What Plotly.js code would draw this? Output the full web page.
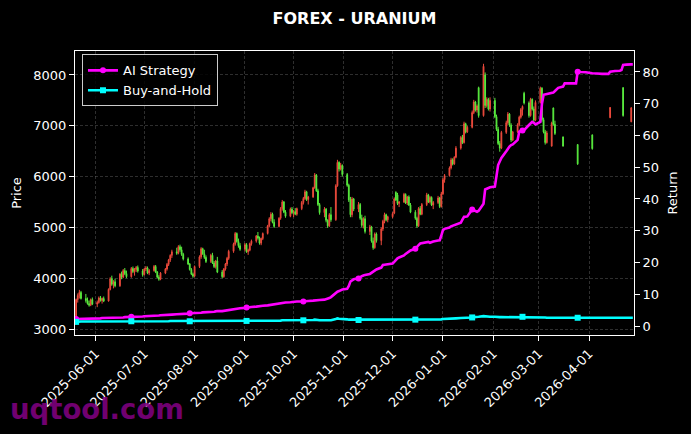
<!DOCTYPE html>
<html>
<head>
<meta charset="utf-8">
<script src="https://cdn.plot.ly/plotly-3.0.1.min.js"></script>
<style>html,body{margin:0;padding:0;background:#000;}#chart{width:691px;height:434px;}</style>
</head>
<body>
<div id="chart"></div>
<script>
// ---------- data ----------
const dates = [
"2025-05-20","2025-05-21","2025-05-22","2025-05-23","2025-05-26","2025-05-27","2025-05-28","2025-05-29","2025-05-30",
"2025-06-02","2025-06-03","2025-06-04","2025-06-05","2025-06-06","2025-06-09","2025-06-10","2025-06-11","2025-06-12","2025-06-13","2025-06-16","2025-06-17","2025-06-18","2025-06-19","2025-06-20","2025-06-23","2025-06-24","2025-06-25","2025-06-26","2025-06-27","2025-06-30",
"2025-07-01","2025-07-02","2025-07-03","2025-07-04","2025-07-07","2025-07-08","2025-07-09","2025-07-10","2025-07-11","2025-07-14","2025-07-15","2025-07-16","2025-07-17","2025-07-18","2025-07-21","2025-07-22","2025-07-23","2025-07-24","2025-07-25","2025-07-28","2025-07-29","2025-07-30","2025-07-31",
"2025-08-01","2025-08-04","2025-08-05","2025-08-06","2025-08-07","2025-08-08","2025-08-11","2025-08-12","2025-08-13","2025-08-14","2025-08-15","2025-08-18","2025-08-19","2025-08-20","2025-08-21","2025-08-22","2025-08-25","2025-08-26","2025-08-27","2025-08-28","2025-08-29",
"2025-09-01","2025-09-02","2025-09-03","2025-09-04","2025-09-05","2025-09-08","2025-09-09","2025-09-10","2025-09-11","2025-09-12","2025-09-15","2025-09-16","2025-09-17","2025-09-18","2025-09-19","2025-09-22","2025-09-23","2025-09-24","2025-09-25","2025-09-26","2025-09-29","2025-09-30",
"2025-10-01","2025-10-02","2025-10-03","2025-10-06","2025-10-07","2025-10-08","2025-10-09","2025-10-10","2025-10-13","2025-10-14","2025-10-15","2025-10-16","2025-10-17","2025-10-20","2025-10-21","2025-10-22","2025-10-23","2025-10-24","2025-10-27","2025-10-28","2025-10-29","2025-10-30","2025-10-31",
"2025-11-03","2025-11-04","2025-11-05","2025-11-06","2025-11-07","2025-11-10","2025-11-11","2025-11-12","2025-11-13","2025-11-14","2025-11-17","2025-11-18","2025-11-19","2025-11-20","2025-11-21","2025-11-24","2025-11-25","2025-11-26","2025-11-27","2025-11-28",
"2025-12-01","2025-12-02","2025-12-03","2025-12-04","2025-12-05","2025-12-08","2025-12-09","2025-12-10","2025-12-11","2025-12-12","2025-12-15","2025-12-16","2025-12-17","2025-12-18","2025-12-19","2025-12-22","2025-12-23","2025-12-24","2025-12-25","2025-12-26","2025-12-29","2025-12-30","2025-12-31",
"2026-01-01","2026-01-02","2026-01-05","2026-01-06","2026-01-07","2026-01-08","2026-01-09","2026-01-12","2026-01-13","2026-01-14","2026-01-15","2026-01-16","2026-01-19","2026-01-20","2026-01-21","2026-01-22","2026-01-23","2026-01-26","2026-01-27","2026-01-28","2026-01-29","2026-01-30",
"2026-02-02","2026-02-03","2026-02-04","2026-02-05","2026-02-06","2026-02-09","2026-02-10","2026-02-11","2026-02-12","2026-02-13","2026-02-16","2026-02-17","2026-02-18","2026-02-19","2026-02-20","2026-02-23","2026-02-24","2026-02-25","2026-02-26","2026-02-27",
"2026-03-02","2026-03-03","2026-03-04","2026-03-05","2026-03-06","2026-03-09","2026-03-10","2026-03-11","2026-03-12","2026-03-13","2026-03-16","2026-03-17","2026-03-18","2026-03-19","2026-03-20","2026-03-23","2026-03-24","2026-03-25","2026-03-26","2026-03-27","2026-03-30","2026-03-31",
"2026-04-01","2026-04-02","2026-04-03","2026-04-06","2026-04-07","2026-04-08","2026-04-09","2026-04-10","2026-04-13","2026-04-14","2026-04-15","2026-04-16","2026-04-17","2026-04-20","2026-04-21","2026-04-22","2026-04-23","2026-04-24","2026-04-27","2026-04-28"
];

const open = [
3180,3580,3660,3720,3600,3560,3500,3470,3580,
3490,3520,3610,3560,3600,3550,3780,3990,3880,3930,3850,4080,4020,4150,4090,4030,4190,4130,4170,4210,4140,
4070,4180,4200,4100,4150,4230,4120,4020,3980,4100,4180,4270,4360,4450,4520,4490,4620,4560,4470,4380,4280,4170,4080,
4040,4230,4420,4580,4480,4410,4330,4450,4300,4230,4340,4120,4030,4180,4280,4390,4530,4670,4880,4720,4640,
4570,4660,4520,4550,4680,4730,4830,4790,4690,4780,4880,5030,5170,5260,5100,5020,5180,5370,5500,5300,5220,5360,
5290,5310,5260,5370,5490,5570,5700,5550,5600,5780,6030,5720,5450,5290,5360,5140,5030,5250,5150,5820,6280,6150,6220,
6040,5830,5540,5250,5560,5360,5450,5180,5040,5170,4920,5010,4730,4600,4870,4740,4970,5120,5250,5150,
5210,5280,5690,5640,5470,5500,5650,5480,5600,5440,5300,5180,5030,5370,5260,5450,5640,5500,5590,5440,5490,5580,5410,
5660,5940,6020,6170,6330,6250,6380,6560,6770,6670,7040,6880,6970,7260,7470,7310,7750,7200,8000,7400,7520,7330,
7500,7180,6930,6650,6560,6870,7060,7230,7010,6720,6880,7020,7170,7320,7640,7450,7200,7520,7330,7110,
7460,7740,7120,6880,6670,6600,7350,7030,null,null,6780,null,null,null,null,null,null,6630,null,null,null,null,
null,null,6820,null,null,null,null,null,null,7160,null,null,null,null,null,7750,null,null,7080,null
];
const high = [
3600,3700,3770,3750,3690,3620,3560,3600,3620,
3560,3640,3650,3620,3640,3800,4020,4050,3960,3990,4100,4130,4180,4200,4150,4220,4230,4200,4240,4250,4180,
4200,4240,4230,4180,4260,4260,4140,4060,4120,4200,4300,4380,4470,4560,4600,4650,4660,4620,4500,4410,4300,4200,4110,
4250,4450,4610,4600,4560,4450,4480,4500,4340,4360,4420,4160,4200,4300,4420,4560,4700,4910,4900,4780,4690,
4690,4690,4580,4700,4760,4850,4910,4820,4800,4900,5050,5200,5300,5290,5160,5200,5400,5540,5520,5340,5390,5400,
5340,5380,5390,5520,5600,5740,5720,5620,5800,6070,6050,5760,5480,5400,5380,5160,5280,5400,5850,6330,6300,6270,6240,
6070,5860,5600,5600,5580,5500,5480,5250,5200,5230,5050,5030,4800,4900,4900,5000,5150,5290,5270,5230,
5300,5590,5710,5680,5520,5680,5670,5620,5630,5480,5340,5210,5400,5420,5480,5680,5660,5620,5610,5520,5620,5600,5700,
5970,6050,6200,6370,6360,6400,6600,6800,6820,7080,7060,7000,7300,7510,7490,7420,7770,8220,8050,7560,7550,7560,
7550,7220,6980,6700,6900,7100,7270,7250,7050,6900,7050,7200,7350,7400,7670,7480,7550,7540,7380,7500,
7770,7760,7160,6920,6900,7080,7360,7100,null,null,6790,null,null,null,null,null,null,6640,null,null,null,null,
null,null,6830,null,null,null,null,null,null,7370,null,null,null,null,null,7760,null,null,7370,null
];
const low = [
3160,3520,3600,3580,3520,3480,3440,3450,3470,
3430,3500,3540,3500,3530,3540,3760,3850,3800,3820,3830,3980,4000,4060,4000,4010,4100,4050,4120,4110,4030,
4050,4140,4080,4060,4130,4100,4000,3950,3960,4080,4150,4240,4320,4400,4460,4470,4520,4440,4350,4260,4150,4060,4010,
4020,4200,4380,4460,4380,4300,4300,4280,4200,4190,4100,4000,4010,4150,4240,4360,4500,4640,4700,4600,4540,
4530,4500,4460,4530,4640,4700,4760,4660,4650,4750,4860,5000,5120,5080,4990,5000,5150,5330,5280,5190,5200,5260,
5200,5240,5230,5340,5450,5540,5520,5450,5580,5760,5700,5420,5250,5200,5100,4990,5010,5110,5130,5800,6100,6120,6000,
5800,5500,5200,5200,5320,5300,5150,5000,4980,4880,4850,4700,4560,4580,4700,4650,4930,5080,5120,5100,
5180,5260,5520,5440,5400,5480,5460,5440,5420,5280,5150,4990,5010,5240,5240,5420,5480,5470,5420,5360,5460,5380,5390,
5640,5880,6000,6140,6220,6230,6360,6530,6640,6650,6850,6860,6950,7230,7280,7260,7160,7180,7350,7360,7300,7280,
7150,6900,6620,6490,6540,6840,7020,6980,6680,6700,6860,6990,7140,7200,7420,7160,7180,7300,7080,7090,
7440,7080,6850,6630,6650,6590,7000,6820,null,null,6590,null,null,null,null,null,null,6230,null,null,null,null,
null,null,6530,null,null,null,null,null,null,7150,null,null,null,null,null,7180,null,null,7070,null
];
const close = [
3580,3660,3720,3600,3560,3500,3470,3580,3490,
3520,3610,3560,3600,3550,3780,3990,3880,3930,3850,4080,4020,4150,4090,4030,4190,4130,4170,4210,4140,4070,
4180,4200,4100,4150,4230,4120,4020,3980,4100,4180,4270,4360,4450,4520,4490,4620,4560,4470,4380,4280,4170,4080,4040,
4230,4420,4580,4480,4410,4330,4450,4300,4230,4340,4120,4030,4180,4280,4390,4530,4670,4880,4720,4640,4570,
4660,4520,4550,4680,4730,4830,4790,4690,4780,4880,5030,5170,5260,5100,5020,5180,5370,5500,5300,5220,5360,5290,
5310,5260,5370,5490,5570,5700,5550,5600,5780,6030,5720,5450,5290,5360,5140,5030,5250,5150,5820,6280,6150,6220,6040,
5830,5540,5250,5560,5360,5450,5180,5040,5170,4920,5010,4730,4600,4870,4740,4970,5120,5250,5150,5210,
5270,5560,5540,5470,5500,5650,5480,5600,5440,5300,5180,5030,5370,5260,5450,5640,5500,5590,5440,5490,5580,5410,5660,
5940,6020,6170,6330,6250,6380,6560,6770,6670,7040,6880,6970,7260,7470,7310,7390,7200,8170,7400,7520,7330,7500,
7180,6930,6650,6560,6870,7060,7230,7010,6720,6880,7020,7170,7320,7380,7450,7200,7520,7330,7110,7460,
7740,7120,6880,6670,6860,7050,7030,6850,null,null,6600,null,null,null,null,null,null,6250,null,null,null,null,
null,null,6550,null,null,null,null,null,null,7360,null,null,null,null,null,7200,null,null,7350,null
];

const aiReturn = [
2.2,2.2,2.2,2.2,2.3,2.3,2.3,2.3,2.4,
2.4,2.4,2.4,2.5,2.5,2.5,2.6,2.6,2.6,2.6,2.7,2.7,2.7,2.8,2.8,2.9,2.9,2.9,3.0,3.0,3.0,
3.1,3.1,3.1,3.2,3.2,3.3,3.3,3.3,3.4,3.4,3.5,3.5,3.6,3.6,3.7,3.7,3.8,3.8,3.9,3.9,4.0,4.0,4.1,
4.1,4.2,4.2,4.3,4.3,4.4,4.4,4.5,4.5,4.6,4.7,4.7,4.8,4.9,5.0,5.1,5.2,5.3,5.4,5.5,5.6,
5.7,5.8,5.8,5.9,6.0,6.1,6.2,6.2,6.3,6.4,6.5,6.6,6.7,6.8,6.9,7.0,7.1,7.2,7.3,7.4,7.5,7.6,
7.6,7.6,7.7,7.7,7.7,7.8,7.8,7.9,8.0,8.0,8.1,8.1,8.2,8.3,8.4,8.6,8.8,9.1,10.5,10.8,11.0,11.3,11.5,
11.7,12.6,14.0,14.5,14.7,15.0,15.5,15.7,15.9,16.1,16.4,16.8,17.1,17.4,17.8,18.4,19.2,19.3,19.4,19.5,
19.7,20.2,20.8,21.3,21.6,22.2,22.7,23.0,23.4,23.8,24.3,25.0,25.5,26.0,26.1,26.3,26.5,26.2,26.4,26.6,26.9,27.0,28.5,
30.2,30.6,31.0,31.4,31.6,31.8,32.0,32.5,33.5,34.4,34.4,34.5,36.7,36.5,36.2,36.0,36.3,38.5,43.0,43.2,43.5,43.7,
43.9,47.5,50.7,51.8,52.9,55.0,56.0,56.5,57.0,57.2,58.6,61.2,61.4,61.6,61.7,63.3,63.8,64.3,64.0,63.5,
64.3,70.0,72.8,72.9,73.0,73.3,73.5,74.0,74.6,75.0,75.4,76.4,76.4,76.4,76.4,76.4,76.4,80.1,80.0,80.0,79.9,79.8,
79.8,79.7,79.6,79.5,79.4,79.4,79.4,79.4,79.4,80.1,80.1,80.2,80.3,80.4,80.6,82.2,82.3,82.3,82.4,82.4
];
const bhReturn = [
1.3,1.4,1.4,1.4,1.4,1.4,1.3,1.4,1.4,
1.4,1.4,1.4,1.4,1.4,1.4,1.5,1.5,1.5,1.5,1.5,1.5,1.5,1.5,1.5,1.5,1.5,1.5,1.5,1.5,1.5,
1.5,1.5,1.5,1.5,1.5,1.5,1.5,1.5,1.5,1.5,1.5,1.5,1.6,1.6,1.6,1.6,1.6,1.6,1.5,1.5,1.5,1.5,1.5,
1.5,1.5,1.5,1.5,1.5,1.5,1.5,1.5,1.5,1.5,1.5,1.5,1.5,1.5,1.5,1.5,1.6,1.6,1.6,1.6,1.6,
1.6,1.6,1.6,1.6,1.6,1.6,1.6,1.6,1.6,1.6,1.6,1.7,1.7,1.7,1.7,1.7,1.7,1.8,1.8,1.7,1.7,1.7,
1.7,1.7,1.7,1.8,1.8,1.8,1.9,1.9,1.9,2.0,1.9,1.9,1.8,1.8,1.8,1.8,1.8,1.8,2.2,2.4,2.3,2.3,2.2,
2.1,2.0,2.0,2.0,1.9,1.9,1.9,1.9,1.9,1.9,1.9,1.9,1.9,1.9,1.9,1.9,2.0,2.0,2.0,2.0,
2.0,2.0,2.0,2.0,2.0,2.0,2.0,2.0,2.0,2.0,2.0,2.0,2.0,2.0,2.0,2.0,2.0,2.0,2.0,2.0,2.0,2.0,2.1,
2.2,2.2,2.3,2.3,2.3,2.4,2.4,2.5,2.5,2.6,2.6,2.6,2.7,2.8,2.8,2.8,2.9,3.1,3.0,2.9,2.9,2.9,
2.9,2.8,2.8,2.8,2.8,2.8,2.8,2.9,2.9,2.9,2.9,2.9,2.9,2.9,2.9,2.9,2.9,2.8,2.8,2.8,
2.8,2.7,2.7,2.7,2.6,2.6,2.6,2.6,2.6,2.6,2.6,2.6,2.6,2.6,2.6,2.6,2.6,2.6,2.6,2.6,2.6,2.6,
2.6,2.6,2.6,2.6,2.6,2.6,2.6,2.6,2.6,2.6,2.6,2.6,2.6,2.6,2.6,2.6,2.6,2.6,2.6,2.6
];

const tickDates = ["2025-06-01","2025-07-01","2025-08-01","2025-09-01","2025-10-01","2025-11-01","2025-12-01","2026-01-01","2026-02-01","2026-03-01","2026-04-01"];
const priceTicks = [3000,4000,5000,6000,7000,8000];
const returnTicks = [0,10,20,30,40,50,60,70,80];

// ---------- style ----------
const markerDates = ["2025-05-20","2025-06-23","2025-07-29","2025-09-02","2025-10-07","2025-11-10","2025-12-15","2026-01-19","2026-02-19","2026-03-25"];
const markIdx = markerDates.map(d => dates.indexOf(d)).filter(i => i >= 0);
const cIdx = dates.map((d, i) => i).filter(i => open[i] !== null);
const pick = arr => cIdx.map(i => arr[i]);

const FONT = 'DejaVu Sans, Arial, sans-serif';
const UP = '#ec4a3c', DOWN = '#58ea3e';
const grid = 'rgba(120,120,120,0.55)';

const traces = [
  {
    type: 'candlestick', x: pick(dates), open: pick(open), high: pick(high), low: pick(low), close: pick(close),
    increasing: {line: {color: UP, width: 1}, fillcolor: UP},
    decreasing: {line: {color: DOWN, width: 1}, fillcolor: DOWN},
    whiskerwidth: 0, showlegend: false, hoverinfo: 'skip', yaxis: 'y'
  },
  {
    type: 'scatter', mode: 'lines+markers', name: 'AI Strategy', x: dates, y: aiReturn, yaxis: 'y2',
    line: {color: '#ff00ff', width: 2.6}, marker: {symbol: 'circle', size: 6, color: '#ff00ff'},
    selectedpoints: markIdx, unselected: {marker: {opacity: 0}}, selected: {marker: {opacity: 1}}
  },
  {
    type: 'scatter', mode: 'lines+markers', name: 'Buy-and-Hold', x: dates, y: bhReturn, yaxis: 'y2',
    line: {color: '#00ffff', width: 2.6}, marker: {symbol: 'square', size: 6, color: '#00ffff'},
    selectedpoints: markIdx, unselected: {marker: {opacity: 0}}, selected: {marker: {opacity: 1}}
  }
];

const layout = {
  width: 691, height: 434,
  paper_bgcolor: '#000', plot_bgcolor: '#000',
  margin: {l: 75, r: 57, t: 51, b: 99, pad: 0},
  font: {family: FONT, color: '#fff', size: 13},
  hovermode: false,
  title: {text: '<b>FOREX - URANIUM</b>', x: 0.5, xref: 'paper', xanchor: 'center', y: 1 - 18 / 434, yref: 'container', yanchor: 'middle',
    font: {family: FONT, size: 16, color: '#fff'}},
  xaxis: {
    type: 'date', range: ['2025-05-19 07:30', '2026-04-28 17:00'],
    tickvals: tickDates, ticktext: tickDates, tickangle: -45,
    ticks: 'outside', ticklen: 5, tickcolor: '#fff', tickwidth: 1,
    tickfont: {family: FONT, size: 13, color: '#fff'},
    showgrid: true, gridcolor: grid, gridwidth: 0.7, griddash: '3px,2px',
    showline: true, linecolor: '#fff', linewidth: 1, mirror: true,
    zeroline: false, rangeslider: {visible: false}, fixedrange: true
  },
  yaxis: {
    range: [2882, 8472], tickvals: priceTicks,
    ticks: 'outside', ticklen: 5, tickcolor: '#fff', tickwidth: 1,
    tickfont: {family: FONT, size: 13, color: '#fff'},
    title: {text: 'Price', font: {family: FONT, size: 13, color: '#fff'}, standoff: 8},
    showgrid: true, gridcolor: grid, gridwidth: 0.7, griddash: '3px,2px',
    showline: true, linecolor: '#fff', linewidth: 1, mirror: true, zeroline: false, fixedrange: true
  },
  yaxis2: {
    overlaying: 'y', side: 'right', range: [-2.83, 86.6], tickvals: returnTicks,
    ticks: 'outside', ticklen: 5, tickcolor: '#fff', tickwidth: 1,
    tickfont: {family: FONT, size: 13, color: '#fff'},
    title: {text: 'Return', font: {family: FONT, size: 13, color: '#fff'}, standoff: 9},
    showgrid: false, showline: true, linecolor: '#fff', linewidth: 1, zeroline: false, fixedrange: true
  },
  legend: {
    x: 0.0125, y: 0.988, xanchor: 'left', yanchor: 'top',
    bgcolor: 'rgba(0,0,0,0.85)', bordercolor: '#cccccc', borderwidth: 1,
    font: {family: FONT, size: 13, color: '#fff'}, itemwidth: 30, tracegroupgap: 0
  },
  annotations: [{
    text: '<b>uqtool.com</b>', xref: 'paper', yref: 'paper', x: -0.12, y: -0.262,
    xanchor: 'left', yanchor: 'middle', showarrow: false,
    font: {family: FONT, size: 27.5, color: 'rgba(128,0,128,0.88)'}
  }]
};

Plotly.newPlot('chart', traces, layout, {displayModeBar: false, staticPlot: true});
</script>
</body>
</html>
